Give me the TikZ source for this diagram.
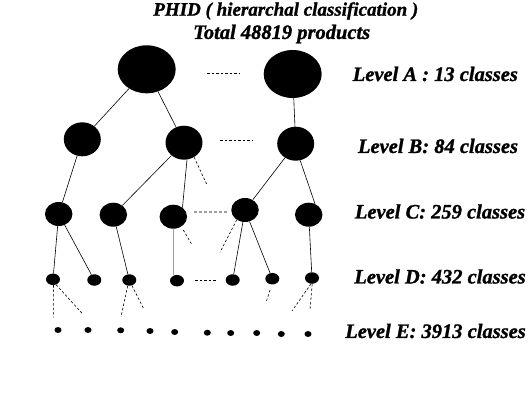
\documentclass[tikz,border=0pt]{standalone}
\usepackage{fontspec}
\setmainfont{Liberation Serif}
\newfontfamily\heavyfont{Liberation Serif}[UprightFont={* Bold Italic}, FakeBold=1.2]
\usetikzlibrary{shapes.geometric}
\begin{document}
\begin{tikzpicture}[x=1pt,y=-1pt,
  ell/.style={ellipse,fill=black,inner sep=0pt,draw=none},
  nA/.style={ell,minimum width=58pt,minimum height=48pt},
  nB/.style={ell,minimum width=37pt,minimum height=34pt},
  nC/.style={ell,minimum width=27.5pt,minimum height=24pt},
  nD/.style={ell,minimum width=14pt,minimum height=11.5pt},
  nE/.style={ell,minimum width=7pt,minimum height=6pt},
  edge/.style={line width=0.6pt},
  dedge/.style={line width=0.6pt,dash pattern=on 2.5pt off 2pt},
  gedge/.style={line width=1.3pt,gray!75},
  gdash/.style={line width=1.2pt,gray!75,dash pattern=on 3pt off 2pt},
  lbl/.style={font=\fontsize{20.5}{24}\selectfont\heavyfont,inner sep=0pt},
  ttl/.style={font=\fontsize{19}{22}\selectfont\heavyfont,inner sep=0pt}]
\useasboundingbox (0,0) rectangle (528,408);
% titles
\node[ttl] (t1) at (285.8,11) {PHID ( hierarchal classification )};
\node[lbl] (t2) at (281.7,34) {Total 48819 products};
% level labels
\node[lbl] (LA) at (435.3,74) {Level A : 13 classes};
\node[lbl] (LB) at (438,146) {Level B: 84 classes};
\node[lbl] (LC) at (440,211.5) {Level C: 259 classes};
\node[lbl] (LD) at (440,276.5) {Level D: 432 classes};
\node[lbl] (LE) at (435.5,331) {Level E: 3913 classes};
% level A
\node[nA] (A1) at (146.7,69.3) {};
\node[nA] (A2) at (292.7,74) {};
% level B
\node[nB] (B1) at (82.3,139.3) {};
\node[nB] (B2) at (184,142.7) {};
\node[nB] (B3) at (295.7,143.7) {};
% level C
\node[nC] (C1) at (58.7,214) {};
\node[nC] (C2) at (113.3,214.7) {};
\node[nC] (C3) at (173.3,216.7) {};
\node[nC] (C4) at (245,210) {};
\node[nC] (C5) at (308.7,214.7) {};
% level D
\node[nD] (D1) at (53,279.3) {};
\node[nD] (D2) at (94.3,280) {};
\node[nD] (D3) at (129.3,280) {};
\node[nD] (D4) at (177,280.7) {};
\node[nD] (D5) at (232.7,280) {};
\node[nD] (D6) at (272.3,278.7) {};
\node[nD] (D7) at (312,278) {};
% level E
\node[nE] (E1) at (58,330) {};
\node[nE] (E2) at (88,330) {};
\node[nE] (E3) at (120.7,330.3) {};
\node[nE] (E4) at (150,331) {};
\node[nE] (E5) at (174.7,332) {};
\node[nE] (E6) at (207.3,332.7) {};
\node[nE] (E7) at (230.7,333) {};
\node[nE] (E8) at (256.7,333) {};
\node[nE] (E9) at (281.3,334) {};
\node[nE] (E10) at (308,334) {};
% free ends of dashed strokes
\coordinate (dA1) at (207,73.3);   \coordinate (dA2) at (240,73.3);
\coordinate (dB1) at (220,140.7);  \coordinate (dB2) at (253,140.7);
\coordinate (dC1) at (194,212);    \coordinate (dC2) at (227,212);
\coordinate (dD1) at (195,280);    \coordinate (dD2) at (216.7,280);
\coordinate (b2d) at (207,185);
\coordinate (c3d1) at (183.3,230); \coordinate (c3d2) at (191.7,244.3);
\coordinate (c4d) at (220,252.3);
\coordinate (d1a) at (53.7,317.3); \coordinate (d1b) at (82.7,314);
\coordinate (d3a) at (121,316.7);  \coordinate (d3b) at (144,309.3);
\coordinate (d6a) at (270,290);    \coordinate (d6b) at (266,302.7);
\coordinate (d7a) at (292,311);    \coordinate (d7b) at (310,310);
% solid edges
\draw[edge] (A1) -- (B1);
\draw[edge] (A1) -- (B2);
\draw[edge] (A2) -- (B3);
\draw[edge] (B1) -- (C1);
\draw[edge] (B2) -- (C2);
\draw[edge] (B2.-80) -- (C3.45);
\draw[edge] (B3) -- (C4);
\draw[edge] (B3.-75) -- (C5.60);
\draw[edge] (C1) -- (D1);
\draw[edge] (C1) -- (D2);
\draw[edge] (C2) -- (D3);
\draw[gedge] (C3.south) -- (C3.south |- D4.north);
\draw[edge] (C4) -- (D5);
\draw[edge] (C4) -- (D6);
\draw[edge] (C5) -- (D7);
% dashed strokes
\draw[dedge] (dA1) -- (dA2);
\draw[dedge] (dB1) -- (dB2);
\draw[gdash] (dC1) -- (dC2);
\draw[dedge] (dD1) -- (dD2);
\draw[dedge] (B2.-55) -- (b2d);
\draw[dedge] (c3d1) -- (c3d2);
\draw[dedge] (C4.-130) -- (c4d);
\draw[dedge] (D1.-85) -- (d1a);
\draw[dedge] (D1.-60) -- (d1b);
\draw[dedge] (D3.-105) -- (d3a);
\draw[dedge] (D3.-65) -- (d3b);
\draw[dedge] (d6a) -- (d6b);
\draw[dedge] (D7.-100) -- (d7a);
\draw[dedge] (D7.-88) -- (d7b);
\end{tikzpicture}
\end{document}
